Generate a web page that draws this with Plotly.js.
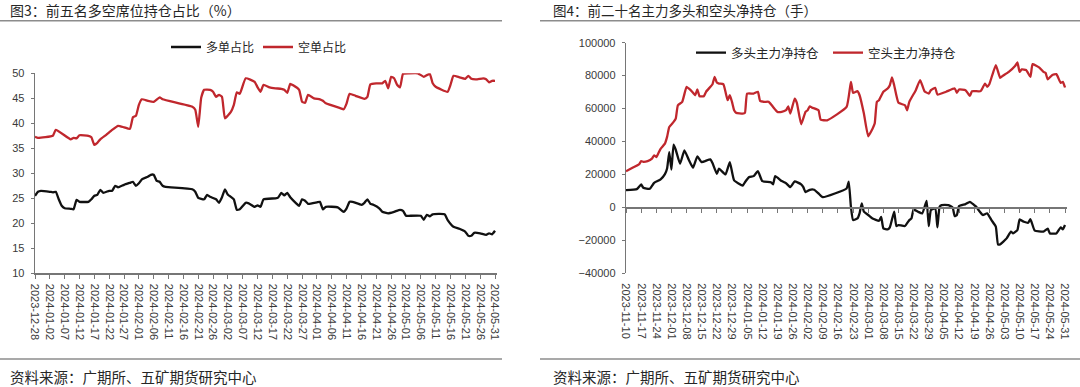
<!DOCTYPE html>
<html>
<head>
<meta charset="utf-8">
<script src="https://cdn.plot.ly/plotly-3.0.1.min.js"></script>
<style>
html,body{margin:0;padding:0;background:#fff;}
#chart{width:1080px;height:387px;}
</style>
</head>
<body>
<div id="chart"></div>
<script>
// ---------- 图3：前五名多空席位持仓占比（%） ----------
const fig3ShortDates = ['2023-12-28','2023-12-29','2024-01-03','2024-01-04','2024-01-09','2024-01-10','2024-01-11','2024-01-12','2024-01-15','2024-01-16','2024-01-17','2024-01-18','2024-01-19','2024-01-21','2024-01-23','2024-01-25','2024-01-27','2024-01-29','2024-01-30','2024-01-31','2024-02-01','2024-02-02','2024-02-04','2024-02-06','2024-02-08','2024-02-09','2024-02-19','2024-02-20','2024-02-21','2024-02-22','2024-02-23','2024-02-25','2024-02-26','2024-02-27','2024-02-28','2024-02-29','2024-03-01','2024-03-03','2024-03-04','2024-03-05','2024-03-06','2024-03-08','2024-03-11','2024-03-12','2024-03-13','2024-03-14','2024-03-16','2024-03-18','2024-03-20','2024-03-21','2024-03-22','2024-03-23','2024-03-24','2024-03-26','2024-03-27','2024-03-28','2024-03-29','2024-03-31','2024-04-02','2024-04-03','2024-04-04','2024-04-09','2024-04-10','2024-04-11','2024-04-12','2024-04-14','2024-04-17','2024-04-18','2024-04-19','2024-04-21','2024-04-23','2024-04-24','2024-04-25','2024-04-26','2024-04-27','2024-04-28','2024-04-29','2024-04-30','2024-05-02','2024-05-05','2024-05-07','2024-05-09','2024-05-10','2024-05-11','2024-05-15','2024-05-16','2024-05-17','2024-05-19','2024-05-21','2024-05-22','2024-05-23','2024-05-25','2024-05-27','2024-05-28','2024-05-29','2024-05-30','2024-05-31'];
const fig3ShortPct = [37.3,37.1,37.5,38.7,36.8,37.1,37.0,37.6,37.5,37.2,35.7,36.1,36.8,37.7,38.7,39.5,39.2,38.9,41.2,41.5,43.7,44.8,44.5,44.3,45.2,44.8,43.3,42.7,39.3,45.1,46.7,46.7,46.3,45.3,45.7,45.3,41.0,42.3,43.7,46.2,45.9,49.0,48.3,47.2,46.3,47.7,47.2,47.0,46.9,46.7,46.1,47.9,47.6,46.7,44.3,44.1,45.7,45.0,44.8,44.5,44.0,43.0,42.8,44.0,45.9,45.5,44.9,45.3,47.8,48.0,48.0,48.5,47.0,49.3,49.0,47.7,47.2,49.9,50.0,50.0,49.3,49.9,48.0,47.3,46.3,47.7,49.5,49.2,48.9,49.5,48.9,48.8,49.0,48.8,48.2,48.5,48.5];

const fig3LongDates = ['2023-12-28','2023-12-29','2023-12-30','2024-01-02','2024-01-03','2024-01-04','2024-01-05','2024-01-06','2024-01-07','2024-01-09','2024-01-10','2024-01-11','2024-01-12','2024-01-15','2024-01-16','2024-01-17','2024-01-18','2024-01-19','2024-01-20','2024-01-22','2024-01-23','2024-01-24','2024-01-25','2024-01-27','2024-01-29','2024-01-30','2024-01-31','2024-02-01','2024-02-02','2024-02-04','2024-02-05','2024-02-06','2024-02-07','2024-02-08','2024-02-09','2024-02-10','2024-02-19','2024-02-20','2024-02-21','2024-02-22','2024-02-23','2024-02-24','2024-02-25','2024-02-27','2024-02-28','2024-02-29','2024-03-01','2024-03-02','2024-03-03','2024-03-04','2024-03-05','2024-03-06','2024-03-08','2024-03-09','2024-03-11','2024-03-12','2024-03-13','2024-03-14','2024-03-18','2024-03-19','2024-03-20','2024-03-21','2024-03-22','2024-03-23','2024-03-25','2024-03-26','2024-03-27','2024-03-28','2024-03-29','2024-04-01','2024-04-02','2024-04-03','2024-04-04','2024-04-08','2024-04-10','2024-04-11','2024-04-12','2024-04-13','2024-04-16','2024-04-17','2024-04-18','2024-04-19','2024-04-20','2024-04-22','2024-04-23','2024-04-25','2024-04-27','2024-04-29','2024-04-30','2024-05-01','2024-05-02','2024-05-06','2024-05-07','2024-05-08','2024-05-09','2024-05-10','2024-05-14','2024-05-15','2024-05-17','2024-05-19','2024-05-21','2024-05-22','2024-05-23','2024-05-24','2024-05-26','2024-05-28','2024-05-29','2024-05-30','2024-05-31'];
const fig3LongPct = [25.5,26.3,26.5,26.3,26.2,26.3,24.8,23.5,23.0,22.9,22.8,24.7,24.3,24.3,24.8,25.5,25.7,26.7,26.1,26.5,26.5,27.5,27.2,27.7,28.1,28.3,27.5,28.0,28.8,29.3,29.7,29.7,28.5,28.3,27.5,27.3,26.8,26.3,25.1,24.9,24.8,25.7,25.3,24.8,24.1,25.2,26.8,25.7,25.3,24.8,22.7,22.8,24.1,24.0,23.3,23.6,23.3,24.8,25.0,25.2,26.1,25.6,26.1,25.2,24.0,23.5,24.8,24.5,23.9,24.2,24.3,22.8,23.3,23.2,22.3,23.0,24.3,24.3,23.7,24.1,24.8,23.9,23.7,23.0,22.3,22.0,22.3,22.7,22.5,21.5,21.5,21.5,20.7,21.7,21.4,21.8,21.8,20.7,19.3,18.9,18.3,17.5,17.5,18.1,18.0,17.7,18.0,17.8,18.5];

const fig3Names = ['多单占比','空单占比'];

// ---------- 图4：前二十名主力多头和空头净持仓（手） ----------
const fig4LongDates = ['2023-11-10','2023-11-15','2023-11-17','2023-11-18','2023-11-21','2023-11-23','2023-11-26','2023-11-28','2023-11-29','2023-11-30','2023-12-01','2023-12-02','2023-12-03','2023-12-05','2023-12-07','2023-12-09','2023-12-11','2023-12-13','2023-12-15','2023-12-19','2023-12-20','2023-12-22','2023-12-23','2023-12-26','2023-12-28','2023-12-30','2024-01-03','2024-01-04','2024-01-06','2024-01-08','2024-01-10','2024-01-12','2024-01-16','2024-01-17','2024-01-18','2024-01-21','2024-01-23','2024-01-25','2024-01-27','2024-01-30','2024-01-31','2024-02-01','2024-02-03','2024-02-05','2024-02-07','2024-02-09','2024-02-20','2024-02-21','2024-02-22','2024-02-23','2024-02-25','2024-02-26','2024-02-27','2024-02-28','2024-03-01','2024-03-03','2024-03-06','2024-03-07','2024-03-08','2024-03-10','2024-03-11','2024-03-13','2024-03-14','2024-03-15','2024-03-18','2024-03-20','2024-03-21','2024-03-22','2024-03-24','2024-03-26','2024-03-28','2024-03-29','2024-03-30','2024-04-01','2024-04-02','2024-04-03','2024-04-04','2024-04-07','2024-04-09','2024-04-10','2024-04-11','2024-04-12','2024-04-15','2024-04-17','2024-04-19','2024-04-20','2024-04-21','2024-04-23','2024-04-25','2024-04-27','2024-04-29','2024-04-30','2024-05-01','2024-05-04','2024-05-06','2024-05-07','2024-05-09','2024-05-10','2024-05-12','2024-05-14','2024-05-15','2024-05-17','2024-05-21','2024-05-23','2024-05-24','2024-05-27','2024-05-29','2024-05-30','2024-05-31'];
const fig4LongNet = [10500,11100,13900,11900,11300,14900,17000,20200,23600,33600,23000,38100,35000,26500,34600,29000,24100,31000,27500,29200,26900,20400,23500,20000,27500,16400,13300,15300,18400,19000,22000,16000,15300,14000,19000,16000,14700,12300,15800,14000,12300,9300,10700,10700,8500,6200,11500,15600,400,-7700,-6700,-3600,2400,-2600,-4600,-6700,-8100,-5700,-12700,-13300,-12100,-2600,-11300,-10700,-11300,-7700,-6700,-1200,-2600,-3600,4000,-11300,-1600,-600,-12100,400,1400,1400,0,-5300,-4600,800,2000,3400,1400,400,-1600,-4600,-3600,-7700,-11700,-22400,-22400,-18800,-14700,-15800,-13700,-7300,-8700,-9300,-7100,-14100,-14700,-12900,-15800,-15800,-12100,-13300,-10700];

const fig4ShortDates = ['2023-11-10','2023-11-13','2023-11-16','2023-11-17','2023-11-18','2023-11-20','2023-11-22','2023-11-23','2023-11-24','2023-11-25','2023-11-26','2023-11-28','2023-11-29','2023-11-30','2023-12-02','2023-12-03','2023-12-04','2023-12-06','2023-12-08','2023-12-09','2023-12-11','2023-12-12','2023-12-13','2023-12-14','2023-12-16','2023-12-17','2023-12-19','2023-12-20','2023-12-21','2023-12-22','2023-12-23','2023-12-25','2023-12-26','2023-12-27','2023-12-28','2023-12-29','2023-12-30','2023-12-31','2024-01-03','2024-01-04','2024-01-05','2024-01-08','2024-01-10','2024-01-11','2024-01-13','2024-01-15','2024-01-17','2024-01-19','2024-01-21','2024-01-23','2024-01-24','2024-01-25','2024-01-27','2024-01-28','2024-01-30','2024-02-01','2024-02-02','2024-02-03','2024-02-04','2024-02-07','2024-02-08','2024-02-11','2024-02-20','2024-02-22','2024-02-23','2024-02-25','2024-02-26','2024-02-28','2024-03-01','2024-03-03','2024-03-04','2024-03-05','2024-03-06','2024-03-08','2024-03-10','2024-03-11','2024-03-12','2024-03-13','2024-03-15','2024-03-18','2024-03-19','2024-03-20','2024-03-23','2024-03-25','2024-03-27','2024-03-29','2024-03-30','2024-04-01','2024-04-02','2024-04-06','2024-04-10','2024-04-11','2024-04-12','2024-04-15','2024-04-17','2024-04-18','2024-04-22','2024-04-24','2024-04-25','2024-04-26','2024-04-29','2024-05-01','2024-05-02','2024-05-05','2024-05-08','2024-05-09','2024-05-10','2024-05-11','2024-05-13','2024-05-15','2024-05-16','2024-05-19','2024-05-21','2024-05-22','2024-05-23','2024-05-25','2024-05-27','2024-05-29','2024-05-30','2024-05-31'];
const fig4ShortNet = [22000,24100,26100,28100,27700,28100,29600,31600,30600,33000,35600,38700,42800,48800,51900,53900,62000,64100,73200,72200,69600,68100,71600,67500,67500,70200,73200,74800,79300,75800,75200,74800,70200,65100,68100,64100,59000,57400,57000,57400,69100,69100,70200,64700,64100,64100,61000,58000,58000,59000,61400,57000,66100,63500,50500,58000,59000,61400,60600,59000,53300,52900,61000,76200,69600,70600,68100,57000,43200,47800,50900,64100,65100,70200,72200,74200,78900,74200,63500,62000,59000,64100,71200,77300,70600,69100,71200,72600,68500,70200,72200,69600,71600,71200,67700,70600,70600,75200,73200,74800,86400,78700,79700,82300,86000,88000,82300,83800,83400,79300,87000,85000,82300,81700,77700,80300,80900,75600,76200,72800];

const fig4Names = ['多头主力净持仓','空头主力净持仓'];

// ---------- layout helpers (pixel -> paper) ----------
const W = 1080, H = 387;
const px = v => v / W;
const py = v => 1 - v / H;

const CJK = '"Noto Sans CJK SC", "Liberation Sans", sans-serif';
const NUM = '"Liberation Sans", Arial, "Noto Sans CJK SC", sans-serif';
const RED = '#C0272D';
const BLACK = '#111111';
const AX = '#767676';
const TXT = '#3a3a3a';

const y3Dom = [py(273.3), py(73.3)];
const y4Dom = [py(273.3), py(42.7)];
const y4Range = [-40000, 100000];
const zeroPos = y4Dom[0] + (0 - y4Range[0]) / (y4Range[1] - y4Range[0]) * (y4Dom[1] - y4Dom[0]);

const x3Range = ['2023-12-28', '2024-05-31 16:00'];
const x4Range = ['2023-11-10', '2024-05-31 22:00'];
const DAY = 86400000;

const lineStyle = (c) => ({color: c, width: 2.3, shape: 'spline', smoothing: 0.4});

const traces = [
  {x: fig3LongDates, y: fig3LongPct, name: fig3Names[0], type: 'scatter', mode: 'lines',
   line: lineStyle(BLACK), xaxis: 'x', yaxis: 'y', legend: 'legend'},
  {x: fig3ShortDates, y: fig3ShortPct, name: fig3Names[1], type: 'scatter', mode: 'lines',
   line: lineStyle(RED), xaxis: 'x', yaxis: 'y', legend: 'legend'},
  {x: fig4LongDates, y: fig4LongNet, name: fig4Names[0], type: 'scatter', mode: 'lines',
   line: lineStyle(BLACK), xaxis: 'x2', yaxis: 'y2', legend: 'legend2'},
  {x: fig4ShortDates, y: fig4ShortNet, name: fig4Names[1], type: 'scatter', mode: 'lines',
   line: lineStyle(RED), xaxis: 'x3', yaxis: 'y2', legend: 'legend2'}
];

const tickFont = {family: NUM, size: 11, color: TXT};

const layout = {
  width: W, height: H,
  margin: {l: 0, r: 0, t: 0, b: 0, pad: 0},
  paper_bgcolor: '#fff', plot_bgcolor: 'rgba(0,0,0,0)',
  font: {family: NUM, color: TXT},
  showlegend: true,
  xaxis: {
    domain: [px(35), px(497)], anchor: 'y', type: 'date', range: x3Range,
    tick0: '2023-12-28', dtick: 5 * DAY, tickformat: '%Y-%m-%d', tickangle: 90,
    ticks: 'outside', ticklen: 4, tickwidth: 1, tickcolor: AX,
    showline: true, linecolor: AX, linewidth: 1.3,
    showgrid: false, zeroline: false, tickfont: tickFont, ticklabelstandoff: 3
  },
  yaxis: {
    domain: y3Dom, anchor: 'x', range: [10, 50], dtick: 5, tick0: 10,
    ticks: 'outside', ticklen: 3, tickwidth: 1, tickcolor: AX,
    showline: true, linecolor: AX, linewidth: 1.3,
    showgrid: false, zeroline: false, tickfont: tickFont, ticklabelstandoff: 4
  },
  xaxis2: {
    domain: [px(626), px(1067)], anchor: 'y2', type: 'date', range: x4Range,
    tick0: '2023-11-10', dtick: 7 * DAY, tickformat: '%Y-%m-%d', tickangle: 90,
    ticks: '', showline: false, showgrid: false, zeroline: false,
    tickfont: tickFont, ticklabelstandoff: 9
  },
  xaxis3: {
    overlaying: 'x2', anchor: 'free', position: zeroPos, type: 'date', range: x4Range,
    tick0: '2023-11-10', dtick: 7 * DAY, ticks: 'outside', ticklen: 4, tickwidth: 1, tickcolor: AX,
    showticklabels: false, showline: true, linecolor: AX, linewidth: 1.3,
    showgrid: false, zeroline: false
  },
  yaxis2: {
    domain: y4Dom, anchor: 'x2', range: y4Range, dtick: 20000, tick0: 0,
    tickformat: 'd',
    ticks: 'outside', ticklen: 3, tickwidth: 1, tickcolor: AX,
    showline: true, linecolor: AX, linewidth: 1.3,
    showgrid: false, zeroline: false, tickfont: tickFont, ticklabelstandoff: 4
  },
  legend: {
    orientation: 'h', x: px(166), y: py(47), xanchor: 'left', yanchor: 'middle',
    font: {family: CJK, size: 12, color: '#262626'}, bgcolor: 'rgba(0,0,0,0)',
    itemwidth: 30, entrywidth: 47, entrywidthmode: 'pixels', tracegroupgap: 0
  },
  legend2: {
    orientation: 'h', x: px(691), y: py(53), xanchor: 'left', yanchor: 'middle',
    font: {family: CJK, size: 12.5, color: '#262626'}, bgcolor: 'rgba(0,0,0,0)',
    itemwidth: 30, entrywidth: 92, entrywidthmode: 'pixels', tracegroupgap: 0
  },
  shapes: [
    {type: 'line', xref: 'paper', yref: 'paper', x0: 0, x1: px(502), y0: py(20.7), y1: py(20.7), line: {color: '#8c8c8c', width: 1.5}},
    {type: 'line', xref: 'paper', yref: 'paper', x0: px(540), x1: 1, y0: py(20.7), y1: py(20.7), line: {color: '#8c8c8c', width: 1.5}},
    {type: 'line', xref: 'paper', yref: 'paper', x0: 0, x1: px(502), y0: py(359), y1: py(359), line: {color: '#8c8c8c', width: 1.5}},
    {type: 'line', xref: 'paper', yref: 'paper', x0: px(540), x1: 1, y0: py(359), y1: py(359), line: {color: '#8c8c8c', width: 1.5}}
  ],
  annotations: [
    {text: '图3：前五名多空席位持仓占比（%）', xref: 'paper', yref: 'paper', x: px(8), y: py(10), xanchor: 'left', yanchor: 'middle', showarrow: false, font: {family: CJK, size: 14, color: '#262626'}},
    {text: '图4：前二十名主力多头和空头净持仓（手）', xref: 'paper', yref: 'paper', x: px(551), y: py(10), xanchor: 'left', yanchor: 'middle', showarrow: false, font: {family: CJK, size: 13.5, color: '#262626'}},
    {text: '资料来源：广期所、五矿期货研究中心', xref: 'paper', yref: 'paper', x: px(8), y: py(376), xanchor: 'left', yanchor: 'middle', showarrow: false, font: {family: CJK, size: 14.5, color: '#262626'}},
    {text: '资料来源：广期所、五矿期货研究中心', xref: 'paper', yref: 'paper', x: px(551), y: py(376), xanchor: 'left', yanchor: 'middle', showarrow: false, font: {family: CJK, size: 14.5, color: '#262626'}}
  ]
};

Plotly.newPlot('chart', traces, layout, {staticPlot: true, displayModeBar: false});
</script>
</body>
</html>
